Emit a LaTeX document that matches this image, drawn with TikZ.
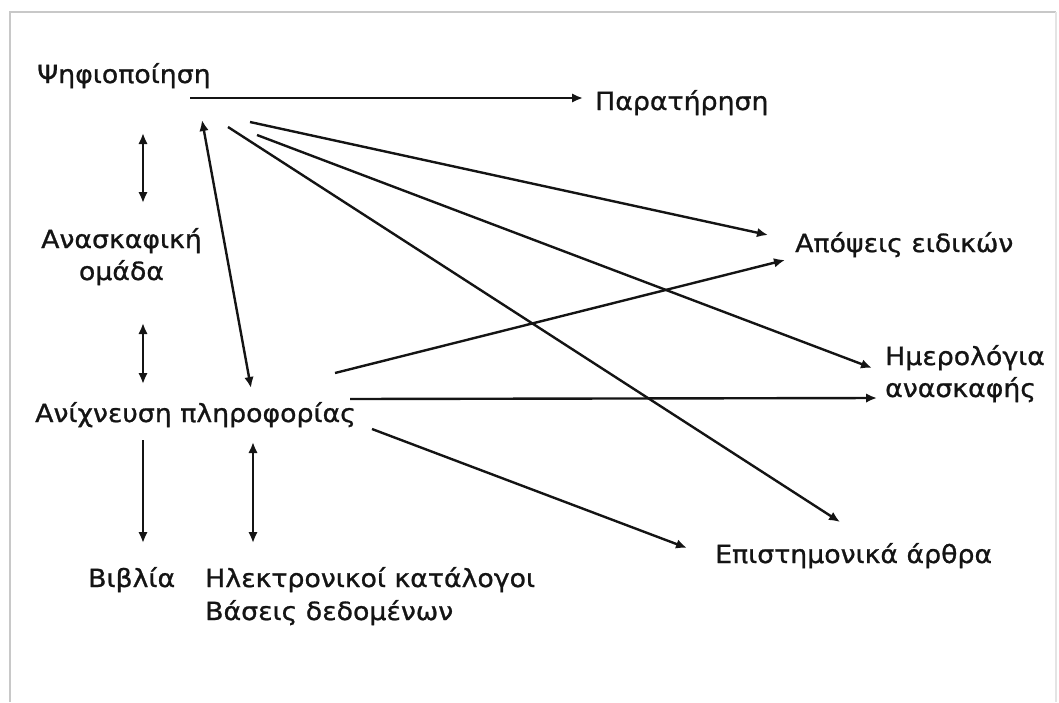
\documentclass[tikz,border=0pt]{standalone}
\usepackage{fontspec}
\setmainfont{DejaVu Sans}[FakeStretch=1.07, FakeBold=1.0]
\usetikzlibrary{arrows.meta}
\definecolor{ink}{HTML}{141414}
\definecolor{rim}{HTML}{C8C8C8}
\definecolor{rimlight}{HTML}{E4E4E4}
\begin{document}
\begin{tikzpicture}[x=1pt,y=-1pt,
  lbl/.style={inner sep=0pt, text=ink, font=\fontsize{25}{32}\selectfont},
  arr/.style={draw=ink, line width=2.4pt, -{Latex[length=11pt,width=9.5pt]}},
  biarr/.style={draw=ink, line width=2.4pt, {Latex[length=11pt,width=9.5pt]}-{Latex[length=11pt,width=9.5pt]}}]
\useasboundingbox (0,0) rectangle (1059,702);
% frame
\draw[rim, line width=2pt] (10,702) -- (10,12) -- (1056,12);
\draw[rimlight, line width=1.5pt] (1056,12) -- (1056,702);

% labels (multi-line nodes sit on the baseline of their last line)
\node[lbl, anchor=base west] (psi) at (37,83) {Ψηφιοποίηση};
\node[lbl, anchor=base west] (par) at (595,110) {Παρατήρηση};
\node[lbl, anchor=base west] (apo) at (795,252) {Απόψεις ειδικών};
\node[lbl, anchor=base, align=center] (ana) at (121.5,280) {Ανασκαφική\\ομάδα};
\node[lbl, anchor=base west] (anix) at (35,422) {Ανίχνευση πληροφορίας};
\node[lbl, anchor=base west, align=left] (imer) at (885,397) {Ημερολόγια\\ανασκαφής};
\node[lbl, anchor=base west] (epi) at (715,563) {Επιστημονικά άρθρα};
\node[lbl, anchor=base west] (bib) at (88,587) {Βιβλία};
\node[lbl, anchor=base west, align=left, font=\fontsize{25}{33}\selectfont] (ilek) at (205,620) {Ηλεκτρονικοί κατάλογοι\\Βάσεις δεδομένων};

% connectors from Ψηφιοποίηση
\draw[arr] ([shift={(153,15)}]psi.base west) -- ([shift={(-12,-12)}]par.base west);
\draw[arr] ([shift={(213,39)}]psi.base west) -- ([shift={(-27,-17)}]apo.base west);
\draw[arr] ([shift={(220,52)}]psi.base west) -- ([shift={(-13,-29)}]imer.base west);
\draw[arr] ([shift={(191,44)}]psi.base west) -- ([shift={(125,-41)}]epi.base west);
\draw[biarr] ([shift={(165,37)}]psi.base west) -- ([shift={(216,-34)}]anix.base west);
\draw[biarr] ([shift={(106,50)}]psi.base west) -- ([shift={(21.5,-77)}]ana.base);

% connectors around Ανασκαφική ομάδα and Ανίχνευση πληροφορίας
\draw[biarr] ([shift={(21.5,43)}]ana.base) -- ([shift={(108,-38)}]anix.base west);
\draw[arr] ([shift={(300,-49)}]anix.base west) -- ([shift={(-10,8)}]apo.base west);
\draw[arr] ([shift={(315,-23)}]anix.base west) -- ([shift={(-8,1)}]imer.base west);
\draw[arr] ([shift={(337,7)}]anix.base west) -- ([shift={(-28,-15)}]epi.base west);
\draw[arr] ([shift={(108,18)}]anix.base west) -- ([shift={(55,-44)}]bib.base west);
\draw[biarr] ([shift={(218,20)}]anix.base west) -- ([shift={(48,-77)}]ilek.base west);
\end{tikzpicture}
\end{document}
